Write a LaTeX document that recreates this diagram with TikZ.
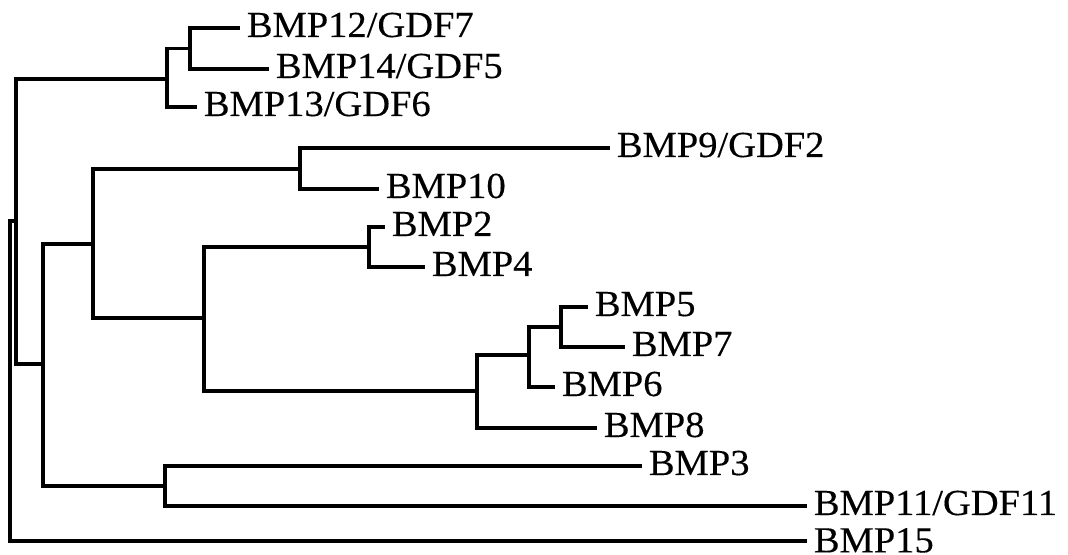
\documentclass[tikz,border=0pt]{standalone}
\usepackage{fontspec}
\setmainfont[FakeStretch=1.05,FakeBold=0.3]{Liberation Serif}

\begin{document}
\begin{tikzpicture}[x=0.75pt,y=-0.75pt,
  branch/.style={black,line width=2.7pt,line cap=rect},
  leaf/.style={anchor=west,inner xsep=6.5pt,inner ysep=0pt,
    text height=18pt,text depth=4.5pt,font=\fontsize{27.5}{32}\selectfont}]
\useasboundingbox (0,0) rectangle (1068,555);

% inner nodes
\coordinate (root)   at ( 10,382);
\coordinate (cupper) at ( 16,221);
\coordinate (cgdf)   at (167, 79);
\coordinate (c1214)  at (190,48.5);
\coordinate (cmain)  at ( 43,364);
\coordinate (cmid)   at ( 93,244);
\coordinate (c910)   at (300,169);
\coordinate (cbmp)   at (204,318);
\coordinate (c24)    at (369,247);
\coordinate (c5678)  at (477,391);
\coordinate (c567)   at (529,355);
\coordinate (c57)    at (561,327);
\coordinate (c311)   at (165,486);

% leaves
\foreach \Nm/\Xc/\Yc/\Texto in {bmp12/238/28/{BMP12/GDF7},bmp14/267/69/{BMP14/GDF5},
  bmp13/195/107/{BMP13/GDF6},bmp9/608/148/{BMP9/GDF2},bmp10/377/189/BMP10,
  bmp2/383/227/BMP2,bmp4/423/267/BMP4,bmp5/586/307/BMP5,bmp7/623/347/BMP7,
  bmp6/553/387/BMP6,bmp8/595/428/BMP8,bmp3/640/466/BMP3,
  bmp11/805/506/{BMP11/GDF11}}
{
  \node[leaf] (\Nm) at (\Xc,\Yc) {\Texto};
}
\node[leaf,text depth=1pt] (bmp15) at (805,541) {BMP15};

% branches
\foreach \Pa/\Ch in {root/cupper,root/bmp15,cupper/cgdf,cupper/cmain,
  cgdf/c1214,cgdf/bmp13,c1214/bmp12,c1214/bmp14,
  cmain/cmid,cmain/c311,cmid/c910,cmid/cbmp,c910/bmp9,c910/bmp10,
  cbmp/c24,cbmp/c5678,c24/bmp2,c24/bmp4,c5678/c567,c5678/bmp8,
  c567/c57,c567/bmp6,c57/bmp5,c57/bmp7,c311/bmp3,c311/bmp11}
{
  \draw[branch] (\Pa) |- (\Ch);
}
\end{tikzpicture}
\end{document}
